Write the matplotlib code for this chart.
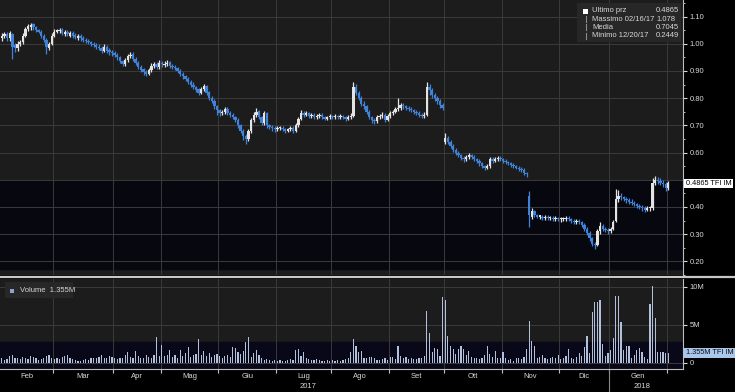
import numpy as np
import pandas as pd
import matplotlib
matplotlib.use("Agg")
import matplotlib.pyplot as plt
import matplotlib.transforms as mtransforms
from matplotlib.lines import Line2D
from matplotlib.patches import Rectangle

plt.rcParams['font.family'] = ['Liberation Sans', 'DejaVu Sans']

# trading days (Borsa Italiana holidays removed)
holidays = ["2017-04-14", "2017-04-17", "2017-05-01", "2017-08-15",
            "2017-12-25", "2017-12-26", "2018-01-01"]
month_labels = ["Feb", "Mar", "Apr", "Mag", "Giu", "Lug", "Ago", "Set", "Ott", "Nov", "Dic", "Gen"]
year_labels = {"Lug": "2017", "Gen": "2018"}

closes = [
    1.030, 1.035, 1.020, 1.040, 0.990, 0.985, 1.000, 1.005, 1.030, 1.055, 1.065, 1.070, 1.060, 1.050, 1.045, 1.030, 1.015, 0.990, 1.000, 1.030,
    1.045, 1.048, 1.050, 1.040, 1.045, 1.035, 1.040, 1.030, 1.025, 1.030, 1.020, 1.015, 1.010, 1.005, 1.000, 0.995, 0.990, 0.985, 0.975, 0.990, 0.975, 0.970, 0.965, 0.960,
    0.950, 0.935, 0.925, 0.940, 0.955, 0.960, 0.945, 0.930, 0.915, 0.905, 0.895, 0.890, 0.905, 0.920, 0.925, 0.915, 0.930, 0.925,
    0.925, 0.930, 0.920, 0.915, 0.910, 0.900, 0.890, 0.880, 0.870, 0.860, 0.850, 0.840, 0.830, 0.820, 0.835, 0.845, 0.820, 0.800, 0.790, 0.770, 0.755, 0.745,
    0.750, 0.760, 0.745, 0.740, 0.730, 0.720, 0.700, 0.680, 0.660, 0.650, 0.680, 0.720, 0.740, 0.750, 0.730, 0.710, 0.745, 0.700, 0.695, 0.690, 0.685, 0.690,
    0.690, 0.685, 0.680, 0.685, 0.690, 0.680, 0.700, 0.725, 0.745, 0.740, 0.745, 0.735, 0.740, 0.730, 0.735, 0.740, 0.730, 0.725, 0.730, 0.735, 0.730,
    0.735, 0.730, 0.735, 0.730, 0.725, 0.730, 0.735, 0.840, 0.820, 0.800, 0.780, 0.770, 0.750, 0.730, 0.720, 0.715, 0.730, 0.735, 0.740, 0.720, 0.735, 0.745,
    0.750, 0.760, 0.765, 0.775, 0.770, 0.765, 0.760, 0.755, 0.750, 0.745, 0.740, 0.735, 0.740, 0.840, 0.830, 0.810, 0.800, 0.790, 0.775, 0.765,
    0.655, 0.640, 0.625, 0.610, 0.600, 0.590, 0.580, 0.575, 0.585, 0.590, 0.585, 0.575, 0.570, 0.560, 0.550, 0.545, 0.550, 0.575, 0.570, 0.575, 0.580, 0.575, 0.570,
    0.565, 0.560, 0.555, 0.550, 0.545, 0.540, 0.535, 0.525, 0.520, 0.370, 0.385, 0.370, 0.365, 0.365, 0.360, 0.365, 0.360, 0.360, 0.355, 0.360, 0.355, 0.355,
    0.355, 0.360, 0.355, 0.350, 0.345, 0.350, 0.345, 0.335, 0.320, 0.305, 0.285, 0.265, 0.260, 0.310, 0.330, 0.320, 0.315, 0.310, 0.320,
    0.345, 0.430, 0.440, 0.435, 0.430, 0.425, 0.420, 0.415, 0.410, 0.405, 0.400, 0.395, 0.390, 0.395, 0.395, 0.490, 0.500, 0.495, 0.490, 0.485, 0.470, 0.4865,
]
opens = [
    1.020, 1.030, 1.035, 1.020, 1.035, 0.995, 0.985, 1.000, 1.005, 1.030, 1.055, 1.060, 1.072, 1.060, 1.050, 1.045, 1.030, 1.015, 0.985, 1.000,
    1.030, 1.045, 1.048, 1.052, 1.035, 1.045, 1.030, 1.040, 1.032, 1.022, 1.030, 1.022, 1.015, 1.010, 1.006, 1.000, 0.996, 0.990, 0.986, 0.975, 0.990, 0.976, 0.970, 0.966,
    0.960, 0.950, 0.936, 0.925, 0.940, 0.955, 0.962, 0.945, 0.930, 0.915, 0.906, 0.896, 0.890, 0.905, 0.920, 0.926, 0.915, 0.930,
    0.922, 0.925, 0.932, 0.920, 0.915, 0.910, 0.900, 0.890, 0.880, 0.870, 0.860, 0.850, 0.840, 0.832, 0.820, 0.835, 0.845, 0.822, 0.800, 0.790, 0.770, 0.756,
    0.745, 0.750, 0.760, 0.745, 0.740, 0.730, 0.720, 0.700, 0.680, 0.662, 0.650, 0.680, 0.720, 0.740, 0.752, 0.730, 0.710, 0.745, 0.700, 0.695, 0.690, 0.685,
    0.690, 0.690, 0.685, 0.680, 0.685, 0.690, 0.680, 0.700, 0.725, 0.745, 0.740, 0.745, 0.735, 0.740, 0.730, 0.735, 0.740, 0.730, 0.725, 0.730, 0.735,
    0.730, 0.735, 0.730, 0.735, 0.730, 0.725, 0.730, 0.735, 0.840, 0.820, 0.800, 0.780, 0.770, 0.750, 0.730, 0.720, 0.715, 0.730, 0.735, 0.740, 0.720, 0.735,
    0.745, 0.750, 0.760, 0.765, 0.775, 0.770, 0.765, 0.760, 0.755, 0.750, 0.745, 0.740, 0.735, 0.740, 0.840, 0.830, 0.810, 0.800, 0.790, 0.775,
    0.640, 0.655, 0.640, 0.625, 0.610, 0.600, 0.590, 0.580, 0.575, 0.585, 0.590, 0.585, 0.575, 0.570, 0.560, 0.550, 0.545, 0.550, 0.575, 0.570, 0.575, 0.580, 0.575,
    0.570, 0.565, 0.560, 0.555, 0.550, 0.545, 0.540, 0.535, 0.525, 0.440, 0.365, 0.385, 0.370, 0.365, 0.365, 0.360, 0.365, 0.360, 0.360, 0.355, 0.360, 0.355,
    0.355, 0.355, 0.360, 0.355, 0.350, 0.345, 0.350, 0.345, 0.335, 0.320, 0.305, 0.285, 0.265, 0.262, 0.310, 0.330, 0.320, 0.315, 0.310,
    0.320, 0.350, 0.430, 0.440, 0.435, 0.430, 0.425, 0.420, 0.415, 0.410, 0.405, 0.400, 0.395, 0.390, 0.395, 0.395, 0.490, 0.500, 0.495, 0.490, 0.485, 0.470,
]
highs = [
    1.040, 1.045, 1.042, 1.048, 1.040, 1.002, 1.010, 1.015, 1.040, 1.062, 1.072, 1.078, 1.076, 1.066, 1.056, 1.050, 1.036, 1.020, 1.008, 1.040,
    1.055, 1.055, 1.058, 1.058, 1.052, 1.050, 1.048, 1.046, 1.040, 1.036, 1.036, 1.028, 1.022, 1.016, 1.012, 1.008, 1.002, 0.998, 0.992, 0.998, 0.995, 0.984, 0.978, 0.972,
    0.966, 0.956, 0.942, 0.948, 0.962, 0.970, 0.968, 0.950, 0.936, 0.922, 0.912, 0.902, 0.912, 0.928, 0.934, 0.932, 0.940, 0.938,
    0.935, 0.940, 0.938, 0.926, 0.922, 0.916, 0.906, 0.896, 0.886, 0.878, 0.866, 0.858, 0.846, 0.838, 0.842, 0.852, 0.850, 0.826, 0.808, 0.796, 0.776, 0.762,
    0.758, 0.768, 0.766, 0.752, 0.746, 0.736, 0.726, 0.706, 0.688, 0.670, 0.688, 0.728, 0.750, 0.765, 0.758, 0.736, 0.752, 0.750, 0.706, 0.700, 0.696, 0.698,
    0.698, 0.696, 0.692, 0.692, 0.698, 0.696, 0.708, 0.732, 0.755, 0.752, 0.752, 0.750, 0.746, 0.745, 0.742, 0.746, 0.745, 0.736, 0.736, 0.742, 0.740,
    0.742, 0.740, 0.742, 0.740, 0.736, 0.738, 0.745, 0.860, 0.852, 0.828, 0.808, 0.788, 0.776, 0.756, 0.736, 0.726, 0.738, 0.742, 0.748, 0.745, 0.742, 0.752,
    0.758, 0.768, 0.800, 0.782, 0.782, 0.776, 0.770, 0.766, 0.762, 0.756, 0.752, 0.746, 0.748, 0.860, 0.852, 0.838, 0.818, 0.808, 0.796, 0.782,
    0.672, 0.660, 0.646, 0.630, 0.616, 0.606, 0.596, 0.586, 0.592, 0.598, 0.596, 0.590, 0.580, 0.576, 0.566, 0.556, 0.558, 0.582, 0.582, 0.582, 0.588, 0.586, 0.580,
    0.576, 0.570, 0.566, 0.562, 0.556, 0.552, 0.546, 0.542, 0.530, 0.458, 0.395, 0.390, 0.376, 0.372, 0.370, 0.371, 0.370, 0.366, 0.366, 0.366, 0.365, 0.362,
    0.362, 0.366, 0.366, 0.360, 0.356, 0.356, 0.355, 0.350, 0.340, 0.325, 0.310, 0.290, 0.270, 0.318, 0.345, 0.336, 0.326, 0.322, 0.328,
    0.352, 0.468, 0.462, 0.450, 0.442, 0.438, 0.432, 0.428, 0.422, 0.416, 0.412, 0.406, 0.402, 0.402, 0.402, 0.505, 0.515, 0.510, 0.505, 0.500, 0.492, 0.495,
]
lows = [
    1.012, 1.022, 1.010, 1.012, 0.945, 0.970, 0.975, 0.992, 0.998, 1.025, 1.048, 1.052, 1.052, 1.042, 1.038, 1.022, 1.005, 0.963, 0.978, 0.995,
    1.025, 1.038, 1.040, 1.034, 1.028, 1.028, 1.025, 1.022, 1.018, 1.015, 1.012, 1.008, 1.002, 0.998, 0.992, 0.988, 0.982, 0.976, 0.966, 0.968, 0.966, 0.960, 0.956, 0.950,
    0.942, 0.928, 0.918, 0.918, 0.934, 0.948, 0.938, 0.922, 0.908, 0.898, 0.886, 0.880, 0.884, 0.898, 0.912, 0.906, 0.908, 0.915,
    0.914, 0.918, 0.912, 0.908, 0.902, 0.892, 0.882, 0.872, 0.862, 0.852, 0.842, 0.832, 0.822, 0.812, 0.814, 0.828, 0.812, 0.792, 0.782, 0.762, 0.740, 0.736,
    0.738, 0.742, 0.738, 0.732, 0.722, 0.712, 0.692, 0.672, 0.645, 0.632, 0.642, 0.672, 0.712, 0.732, 0.722, 0.700, 0.702, 0.692, 0.686, 0.680, 0.676, 0.678,
    0.682, 0.678, 0.672, 0.674, 0.678, 0.672, 0.675, 0.695, 0.720, 0.732, 0.734, 0.728, 0.728, 0.722, 0.724, 0.728, 0.722, 0.718, 0.718, 0.724, 0.722,
    0.724, 0.722, 0.724, 0.722, 0.716, 0.718, 0.724, 0.730, 0.812, 0.792, 0.772, 0.760, 0.742, 0.722, 0.710, 0.705, 0.708, 0.722, 0.728, 0.712, 0.715, 0.728,
    0.738, 0.744, 0.752, 0.758, 0.762, 0.756, 0.752, 0.748, 0.742, 0.738, 0.732, 0.726, 0.728, 0.735, 0.812, 0.800, 0.790, 0.780, 0.765, 0.755,
    0.632, 0.632, 0.618, 0.602, 0.592, 0.582, 0.572, 0.566, 0.568, 0.578, 0.578, 0.568, 0.562, 0.552, 0.542, 0.535, 0.540, 0.545, 0.562, 0.564, 0.568, 0.568, 0.562,
    0.558, 0.554, 0.548, 0.544, 0.538, 0.532, 0.528, 0.518, 0.512, 0.325, 0.355, 0.362, 0.358, 0.356, 0.352, 0.354, 0.352, 0.352, 0.348, 0.348, 0.347, 0.346,
    0.348, 0.348, 0.348, 0.343, 0.338, 0.338, 0.337, 0.328, 0.312, 0.296, 0.276, 0.255, 0.2449, 0.255, 0.302, 0.312, 0.308, 0.302, 0.305,
    0.315, 0.345, 0.420, 0.425, 0.422, 0.416, 0.412, 0.408, 0.402, 0.396, 0.392, 0.386, 0.382, 0.384, 0.386, 0.390, 0.482, 0.486, 0.480, 0.475, 0.458, 0.462,
]
volume_m = [
    0.6, 0.4, 0.5, 0.9, 1.1, 0.7, 0.6, 0.5, 0.8, 0.7, 0.5, 0.9, 0.8, 0.6, 0.4, 0.5, 0.6, 0.9, 1.0, 0.7,
    0.5, 0.6, 0.5, 0.8, 0.9, 1.0, 0.7, 0.5, 0.4, 0.3, 0.3, 0.4, 0.5, 0.4, 0.6, 0.7, 0.6, 0.8, 1.1, 0.7, 0.6, 0.9, 0.8, 0.7,
    0.5, 0.7, 0.6, 1.0, 1.4, 0.8, 0.7, 1.6, 0.9, 0.6, 0.7, 1.0, 0.8, 0.7, 1.1, 3.4, 0.9, 2.4,
    0.9, 1.0, 1.7, 0.8, 1.1, 0.7, 1.7, 0.9, 1.3, 2.1, 0.8, 1.0, 1.2, 3.2, 1.1, 1.6, 0.9, 1.3, 0.8, 1.0, 1.2, 0.9,
    0.7, 0.9, 1.0, 0.8, 2.1, 2.0, 1.4, 1.2, 1.6, 2.8, 3.4, 0.8, 1.3, 1.7, 1.0, 0.6, 0.4, 0.5, 0.4, 0.3, 0.4, 0.3,
    0.4, 0.3, 0.3, 0.4, 0.5, 0.4, 1.7, 1.8, 0.9, 1.5, 0.6, 0.5, 0.4, 0.4, 0.5, 0.4, 0.3, 0.3, 0.4, 0.3, 0.4,
    0.3, 0.4, 0.3, 0.4, 0.5, 0.6, 1.5, 3.2, 2.3, 1.5, 1.6, 0.7, 0.6, 0.8, 0.8, 0.6, 0.4, 0.4, 0.5, 0.6, 0.4, 0.8,
    0.8, 0.5, 2.2, 0.9, 0.6, 0.8, 0.5, 0.6, 0.5, 0.5, 0.6, 0.7, 0.9, 6.8, 3.9, 1.4, 2.0, 1.9, 0.9, 8.7,
    8.3, 3.6, 2.2, 1.9, 1.2, 1.8, 2.3, 1.8, 1.0, 1.6, 0.8, 0.7, 0.6, 0.5, 0.7, 1.0, 2.3, 1.2, 0.8, 1.6, 0.7, 0.6, 1.5,
    0.6, 0.4, 0.5, 0.3, 0.6, 0.7, 0.5, 0.8, 1.8, 5.5, 2.9, 2.2, 0.6, 0.8, 1.0, 0.7, 0.5, 0.6, 0.8, 0.7, 1.0, 0.5,
    0.6, 0.9, 1.8, 0.7, 0.5, 0.8, 1.3, 0.9, 2.1, 3.6, 1.3, 6.7, 8.0, 8.0, 8.3, 2.5, 0.9, 1.3, 1.7,
    3.3, 8.8, 8.8, 5.4, 1.7, 2.2, 2.3, 0.6, 1.0, 1.7, 2.0, 1.4, 0.8, 0.5, 7.7, 10.1, 5.9, 1.5, 1.5, 1.4, 1.3, 1.355,
]
legend_names = ["Ultimo prz", "Massimo 02/16/17", "Media", "Minimo 12/20/17"]
legend_values = ["0.4865", "1.078", "0.7045", "0.2449"]
last_price = 0.4865
last_volume = 1.355

days = pd.bdate_range("2017-02-01", "2018-02-01")
days = days[~days.isin(pd.to_datetime(holidays))]
x = np.arange(len(days))

o = np.array(opens); c = np.array(closes); h = np.array(highs); l = np.array(lows)
UP, DOWN = "#e4e4e4", "#3f82d8"
col = np.where(c >= o, UP, DOWN)

# month boundaries / centres
mkey = days.year * 12 + days.month
starts = [0] + [i for i in range(1, len(days)) if mkey[i] != mkey[i - 1]]
ends = starts[1:] + [len(days)]
bounds = [s - 0.5 for s in starts[1:]]
mids = [(s + e - 1) / 2 for s, e in zip(starts, ends)][:len(month_labels)]

W, H = 735, 392
def px_box(x0, y0, x1, y1):
    return [x0 / W, 1 - y1 / H, (x1 - x0) / W, (y1 - y0) / H]

GRID = "#3a3a3a"
TXT = "#d8d8d8"
fig = plt.figure(figsize=(7.35, 3.92), dpi=100, facecolor="black")

# ---- price panel
ax = fig.add_axes(px_box(0, 0, 683, 275))
ax.set_facecolor("#1c1c1c")
ax.set_xlim(-0.7, 259.6)
ax.set_ylim(0.171, 1.161)
ax.axhspan(0.171, 0.496, color="#07070f", zorder=0)
ax.vlines(x, l, h, colors=col, lw=0.9, zorder=3)
ax.bar(x, np.maximum(np.abs(c - o), 0.004), bottom=np.minimum(o, c), width=0.9,
       color=col, linewidth=0, zorder=3)
ax.set_xticks(bounds)
yt = np.arange(0.2, 1.11, 0.1)
ax.set_yticks(yt)
ax.set_yticks(np.arange(0.15, 1.16, 0.05), minor=True)
# 0.50 sits under the last-price box, as in the reference
ax.set_yticklabels(["" if abs(v - 0.5) < 1e-6 else "%.2f" % v for v in yt])
ax.yaxis.tick_right()
ax.tick_params(axis="x", length=0, labelbottom=False)
ax.tick_params(axis="y", which="major", colors=TXT, labelsize=5.5, length=3, width=0.8, pad=2)
ax.tick_params(axis="y", which="minor", colors=TXT, length=1.5, width=0.6)
ax.grid(True, color=GRID, lw=0.7)
for s in ["left", "top", "bottom"]:
    ax.spines[s].set_visible(False)
ax.spines["right"].set_color("#bdbdbd")
ax.spines["right"].set_linewidth(0.8)
ax.set_axisbelow(True)

blend = mtransforms.blended_transform_factory(ax.transAxes, ax.transData)
ax.text(1.004, last_price, "%.4f TFI IM" % last_price, transform=blend, ha="left", va="center",
        fontsize=5.3, color="black", bbox=dict(boxstyle="square,pad=0.18", fc="white", ec="none"))

# legend box
ax.add_patch(Rectangle((577 / 683, 1 - 42 / 275), 104 / 683, 39 / 275, transform=ax.transAxes,
                       facecolor="#272727", edgecolor="none", zorder=5))
for i, (name, val) in enumerate(zip(legend_names, legend_values)):
    yy = 11 + i * 8.2
    fig.text(592 / W, 1 - yy / H, name, fontsize=5.5, color=TXT, va="center", zorder=6)
    fig.text(656 / W, 1 - yy / H, val, fontsize=5.5, color=TXT, va="center", zorder=6)
    if i == 0:
        fig.add_artist(Rectangle((583 / W, 1 - 13.5 / H), 5 / W, 5 / H, facecolor="white",
                                 edgecolor="none", zorder=6))
    else:
        fig.add_artist(Line2D([586 / W, 586 / W], [1 - (yy - 3) / H, 1 - (yy + 3) / H],
                              color="#8a8a8a", lw=0.8, zorder=6))

# ---- volume panel
axv = fig.add_axes(px_box(0, 279, 683, 369))
axv.set_facecolor("#1c1c1c")
axv.set_xlim(-0.7, 259.6)
axv.set_ylim(-0.79, 11.05)
axv.axhspan(-0.79, 2.75, color="#080818", zorder=0)
axv.bar(x, volume_m, width=0.45, color="#b3c0dc", linewidth=0, zorder=3)
axv.set_xticks(bounds)
axv.set_yticks([0, 5, 10])
axv.set_yticklabels(["0", "5M", "10M"])
axv.yaxis.tick_right()
axv.tick_params(axis="x", length=3, width=0.8, colors="#bdbdbd", labelbottom=False)
axv.tick_params(axis="y", colors=TXT, labelsize=5.5, length=3, width=0.8, pad=2)
axv.grid(True, color=GRID, lw=0.7)
axv.set_axisbelow(True)
for s in ["left", "top"]:
    axv.spines[s].set_visible(False)
for s in ["right", "bottom"]:
    axv.spines[s].set_color("#bdbdbd")
    axv.spines[s].set_linewidth(0.8)

bv = mtransforms.blended_transform_factory(axv.transAxes, axv.transData)
axv.text(1.004, last_volume, "%.3fM TFI IM" % last_volume, transform=bv, ha="left", va="center",
         fontsize=5.3, color="#101010", bbox=dict(boxstyle="square,pad=0.18", fc="#a9c6ec", ec="none"))

axv.add_patch(Rectangle((5 / 683, 1 - 19 / 90), 68 / 683, 16 / 90, transform=axv.transAxes,
                        facecolor="#272727", edgecolor="none", zorder=5))
fig.add_artist(Rectangle((10 / W, 1 - 293 / H), 4 / W, 4 / H, facecolor="#8fa3c8",
                         edgecolor="none", zorder=6))
fig.text(20 / W, 1 - 290.5 / H, "Volume  %.3fM" % last_volume, fontsize=5.5, color=TXT,
         va="center", zorder=6)

# month and year labels
bx = mtransforms.blended_transform_factory(axv.transData, axv.transAxes)
for m, lab in zip(mids, month_labels):
    axv.text(m, -8 / 90, lab, transform=bx, ha="center", va="center", fontsize=5.5, color=TXT)
    if lab in year_labels:
        axv.text(m + 1.5, -17 / 90, year_labels[lab], transform=bx, ha="center", va="center",
                 fontsize=5.5, color=TXT)
jan = bounds[month_labels.index("Gen") - 1]
axv.plot([jan, jan], [0, -23 / 90], transform=bx, color="#8a8a8a", lw=0.8, clip_on=False)

# panel separator
fig.add_artist(Line2D([0, 1], [1 - 277 / H, 1 - 277 / H], color="#c8c8c8", lw=1.6))

fig.savefig("out.png", dpi=100, facecolor="black")
